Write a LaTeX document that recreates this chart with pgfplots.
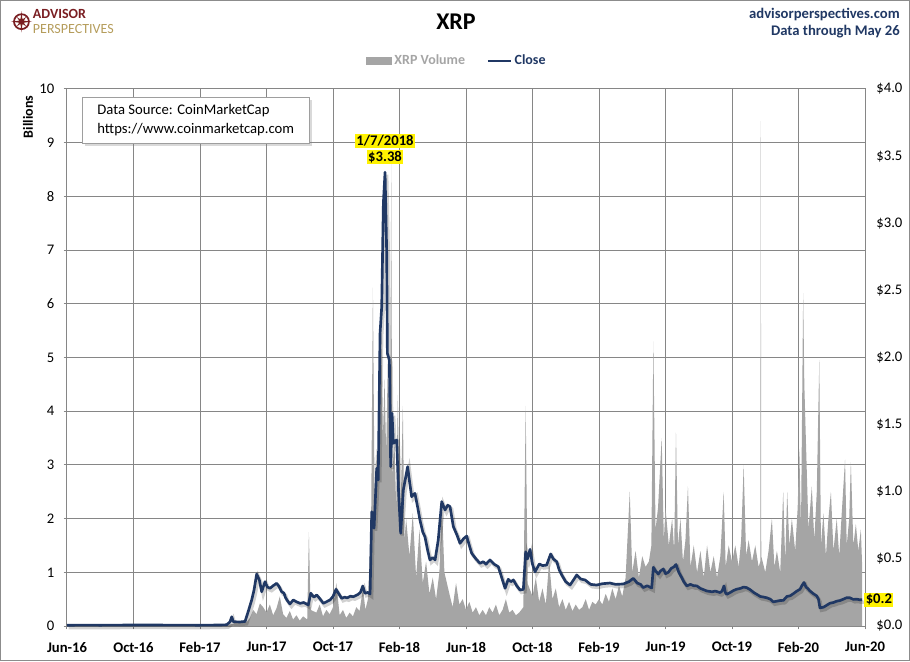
\documentclass[border=0pt]{standalone}
\usepackage{pgfplots}
\pgfplotsset{compat=1.18}
\usepackage{pgfplotstable}
\usepackage{fontspec}
\setmainfont{Carlito}
\usetikzlibrary{shadows}

\definecolor{gridc}{HTML}{868686}
\definecolor{volgray}{HTML}{A5A5A5}
\definecolor{navy}{HTML}{203864}
\definecolor{apred}{HTML}{7A1E22}
\definecolor{apgold}{HTML}{B59D5C}
\definecolor{framec}{HTML}{8C8C8C}

\pgfplotstableread{
m v
0 0.005
9.0 0.008
9.6 0.01
9.8 0.03
10.0 0.04
10.2 0.08
10.4 0.05
10.6 0.10
10.8 0.07
11.0 0.15
11.2 0.30
11.4 0.22
11.6 0.42
11.8 0.35
12.0 0.25
12.2 0.40
12.4 0.20
12.6 0.33
12.8 0.55
13.0 0.22
13.2 0.15
13.4 0.28
13.6 0.12
13.8 0.20
14.0 0.10
14.2 0.18
14.45 0.12
14.55 1.75
14.65 0.30
15.0 0.25
15.2 0.40
15.4 0.18
15.6 0.30
15.8 0.22
16.0 0.35
16.2 0.80
16.4 0.20
16.6 0.30
16.8 0.15
17.0 0.25
17.2 0.18
17.4 0.35
17.6 0.28
17.8 0.70
17.95 0.30
18.1 0.50
18.2 1.20
18.3 2.20
18.4 6.30
18.5 2.40
18.6 3.30
18.7 2.60
18.8 4.00
18.9 5.50
19.0 3.50
19.1 4.60
19.2 3.20
19.3 5.00
19.44 3.00
19.5 8.60
19.56 2.80
19.7 3.40
19.8 2.20
19.9 4.30
20.0 1.90
20.1 2.60
20.2 4.10
20.3 1.60
20.4 2.00
20.6 1.30
20.8 2.10
21.0 0.90
21.2 1.80
21.4 0.80
21.6 1.20
21.8 0.60
22.0 0.90
22.2 0.50
22.4 1.00
22.55 2.30
22.7 1.00
23.0 0.60
23.2 0.35
23.4 0.80
23.6 0.40
23.8 0.50
24.0 0.30
24.2 0.45
24.4 0.25
24.6 0.35
24.8 0.20
25.0 0.30
25.2 0.20
25.4 0.35
25.6 0.25
25.8 0.40
26.0 0.20
26.2 0.30
26.4 0.50
26.6 0.25
26.8 0.30
27.0 0.20
27.2 0.25
27.45 0.35
27.59 4.10
27.7 0.80
28.0 0.55
28.2 0.90
28.4 0.45
28.6 0.70
28.8 0.40
29.0 1.20
29.2 0.50
29.4 0.70
29.6 0.35
29.8 0.50
30.0 0.30
30.2 0.45
30.4 0.28
30.6 0.40
30.8 0.30
31.0 0.35
31.2 0.50
31.4 0.30
31.6 0.45
31.8 0.40
32.0 0.50
32.2 0.40
32.4 0.60
32.6 0.45
32.8 0.70
33.0 0.50
33.2 0.75
33.4 0.55
33.6 0.90
33.85 2.50
34.0 1.00
34.2 1.40
34.4 0.90
34.6 1.30
34.8 1.10
35.0 1.20
35.15 1.50
35.27 5.30
35.4 1.80
35.55 2.20
35.77 3.50
35.9 1.60
36.0 2.20
36.2 1.50
36.4 2.00
36.52 1.40
36.63 3.60
36.75 1.50
36.9 2.00
37.05 1.20
37.2 1.60
37.35 2.60
37.5 1.10
37.7 1.50
37.9 1.00
38.1 1.40
38.3 0.90
38.5 1.50
38.7 1.00
38.9 1.30
39.1 0.90
39.3 1.30
39.5 2.50
39.62 1.10
39.8 1.50
40.0 1.20
40.2 1.50
40.4 1.10
40.55 1.60
40.7 3.00
40.85 1.30
41.0 1.60
41.2 1.20
41.4 1.50
41.6 1.10
41.70 1.20
41.73 9.40
41.76 1.30
42.0 1.00
42.2 1.40
42.4 2.00
42.55 1.10
42.7 1.40
42.9 1.00
43.08 2.50
43.2 1.20
43.32 2.50
43.45 1.50
43.6 2.00
43.8 1.40
43.95 2.20
44.05 3.30
44.15 1.80
44.28 6.20
44.35 4.50
44.45 3.40
44.6 1.80
44.8 2.60
44.95 1.60
45.1 2.50
45.25 4.95
45.35 1.50
45.5 2.10
45.65 1.30
45.8 2.00
45.95 2.50
46.1 1.40
46.3 2.00
46.45 1.30
46.6 2.10
46.8 3.10
46.9 1.50
47.05 2.00
47.15 3.05
47.3 1.50
47.45 1.90
47.6 1.40
47.75 1.80
47.83 1.10
}\voltable

\pgfplotstableread{
m p
0.00 0.0060
1.00 0.0065
2.00 0.0062
3.00 0.0065
4.00 0.0075
5.00 0.0080
6.00 0.0065
7.00 0.0063
8.00 0.0062
9.00 0.0070
9.60 0.0090
9.80 0.030
9.91 0.069
10.00 0.032
10.40 0.030
10.71 0.034
10.89 0.104
11.11 0.194
11.25 0.268
11.41 0.387
11.57 0.343
11.71 0.255
11.91 0.330
12.05 0.290
12.21 0.281
12.40 0.300
12.61 0.318
12.75 0.295
12.91 0.255
13.05 0.245
13.15 0.210
13.25 0.190
13.41 0.164
13.61 0.194
13.80 0.180
14.02 0.169
14.25 0.175
14.51 0.156
14.66 0.244
14.85 0.215
15.02 0.231
15.20 0.205
15.42 0.169
15.60 0.180
15.82 0.194
16.00 0.220
16.18 0.273
16.35 0.240
16.52 0.206
16.70 0.215
16.85 0.210
17.05 0.222
17.22 0.218
17.50 0.235
17.65 0.250
17.79 0.298
17.92 0.244
18.10 0.250
18.23 0.238
18.33 0.851
18.47 0.728
18.63 1.175
18.72 1.088
18.83 2.180
18.93 2.378
19.03 3.149
19.13 3.380
19.23 2.776
19.27 2.031
19.39 1.981
19.47 1.187
19.55 1.584
19.63 1.361
19.83 1.386
19.93 1.038
20.07 0.691
20.23 1.013
20.49 1.187
20.60 1.080
20.73 0.963
20.93 0.988
21.10 0.880
21.23 0.790
21.40 0.700
21.53 0.665
21.70 0.560
21.83 0.492
22.00 0.510
22.14 0.492
22.33 0.641
22.54 0.926
22.74 0.864
22.90 0.900
23.04 0.889
23.24 0.740
23.45 0.680
23.64 0.616
23.85 0.650
24.04 0.670
24.20 0.600
24.34 0.542
24.60 0.500
24.84 0.467
25.04 0.479
25.20 0.460
25.44 0.492
25.70 0.460
25.94 0.442
26.10 0.380
26.35 0.281
26.54 0.348
26.70 0.330
26.85 0.343
27.05 0.300
27.25 0.268
27.45 0.273
27.59 0.553
27.70 0.500
27.85 0.571
28.00 0.460
28.15 0.404
28.41 0.462
28.60 0.450
28.85 0.454
29.09 0.536
29.25 0.500
29.46 0.479
29.60 0.420
29.76 0.380
30.00 0.330
30.26 0.305
30.45 0.340
30.66 0.380
30.90 0.350
31.16 0.343
31.50 0.310
31.86 0.305
32.20 0.315
32.66 0.320
33.00 0.310
33.46 0.313
33.80 0.330
34.06 0.355
34.30 0.320
34.50 0.310
34.66 0.286
34.90 0.300
35.17 0.283
35.27 0.437
35.40 0.410
35.57 0.387
35.70 0.410
35.87 0.425
36.00 0.390
36.17 0.400
36.35 0.430
36.50 0.440
36.63 0.458
36.80 0.400
36.97 0.362
37.10 0.330
37.28 0.299
37.50 0.310
37.70 0.300
37.88 0.299
38.10 0.280
38.30 0.270
38.48 0.261
38.80 0.255
39.00 0.260
39.28 0.249
39.40 0.260
39.52 0.299
39.60 0.250
39.68 0.236
39.90 0.250
40.10 0.265
40.28 0.274
40.50 0.280
40.70 0.290
40.88 0.286
41.10 0.270
41.30 0.250
41.49 0.236
41.70 0.220
41.88 0.216
42.10 0.210
42.30 0.200
42.48 0.180
42.70 0.185
42.90 0.190
43.09 0.191
43.30 0.220
43.50 0.225
43.69 0.241
43.90 0.260
44.09 0.274
44.20 0.300
44.33 0.324
44.45 0.290
44.55 0.280
44.69 0.261
44.90 0.240
45.10 0.224
45.20 0.200
45.29 0.135
45.50 0.140
45.70 0.155
45.90 0.170
46.10 0.175
46.30 0.185
46.50 0.190
46.70 0.200
46.90 0.211
47.10 0.210
47.30 0.198
47.50 0.200
47.70 0.195
47.83 0.196
}\pricetable

\begin{document}
\begin{tikzpicture}
\path[use as bounding box] (0,0) rectangle (682.5pt,495.75pt);

% volume axis (left)
\begin{axis}[
  at={(50.25pt,26.25pt)}, anchor=south west,
  width=598.5pt, height=402.75pt, scale only axis,
  xmin=0, xmax=48, ymin=0, ymax=10,
  xtick={0,4,...,48},
  xticklabels={Jun-16,Oct-16,Feb-17,Jun-17,Oct-17,Feb-18,Jun-18,Oct-18,Feb-19,Jun-19,Oct-19,Feb-20,Jun-20},
  ytick={0,1,...,10},
  yticklabels={0,1,2,3,4,5,6,7,8,9,10},
  grid=major,
  major grid style={gridc, line width=0.75pt},
  axis line style={gridc, line width=0.75pt},
  tick style={gridc, line width=0.75pt},
  tick align=outside, major tick length=2.5pt,
  xtick pos=bottom, ytick pos=left,
  /pgf/number format/assume math mode=true,
  xticklabel style={font=\bfseries\fontsize{11}{13}\selectfont, yshift=-6pt},
  yticklabel style={font=\fontsize{11}{13}\selectfont, xshift=-3.5pt},
]
\addplot[fill=volgray, draw=none] table[x=m, y=v]{\voltable} \closedcycle;
\end{axis}

% price axis (right)
\begin{axis}[
  at={(50.25pt,26.25pt)}, anchor=south west,
  width=598.5pt, height=402.75pt, scale only axis,
  xmin=0, xmax=48, ymin=0, ymax=4,
  axis x line=none, axis y line*=right,
  y axis line style={draw=none},
  ytick={0,0.5,1,1.5,2,2.5,3,3.5,4},
  yticklabels={\$0.0,\$0.5,\$1.0,\$1.5,\$2.0,\$2.5,\$3.0,\$3.5,\$4.0},
  major tick length=0pt,
  /pgf/number format/assume math mode=true,
  yticklabel style={font=\fontsize{11}{13}\selectfont, anchor=west, xshift=5pt},
  clip=false,
  legend style={at={(0.489,1.052)}, anchor=center, draw=none, fill=none,
    font=\bfseries\fontsize{10.5}{12}\selectfont, legend columns=2,
    /tikz/every even column/.append style={column sep=14pt}},
]
\addlegendimage{legend image code/.code={\fill[volgray] (0cm,-0.09cm) rectangle (0.66cm,0.09cm);}}
\addlegendentry{\textcolor{volgray}{XRP Volume}}
\addplot[black, opacity=0.18, line width=2.6pt, xshift=1.2pt, yshift=-1.8pt, forget plot] table[x=m, y=p]{\pricetable};
\addplot[navy, line width=2pt, line join=round] table[x=m, y=p]{\pricetable};
\addlegendentry{\textcolor{navy}{Close}}
\node[fill=yellow, inner sep=1pt, anchor=south, font=\bfseries\fontsize{11}{13}\selectfont, yshift=6pt] (pk) at (axis cs:19.13,3.38) {\$3.38};
\node[fill=yellow, inner sep=1pt, anchor=south, font=\bfseries\fontsize{11}{13}\selectfont] at ([yshift=1pt]pk.north) {1/7/2018};
\node[fill=yellow, inner sep=1pt, anchor=west, font=\bfseries\fontsize{11}{13}\selectfont, xshift=1.5pt] at (axis cs:47.83,0.196) {\$0.2};
\end{axis}

% Billions label
\node[rotate=90, font=\bfseries\fontsize{10.5}{12}\selectfont] at (21pt,408pt) {Billions};

% Data source box
\node[draw=gridc!80, fill=white, drop shadow={opacity=0.3, shadow xshift=2pt, shadow yshift=-2pt},
  anchor=north west, minimum width=170.25pt, minimum height=34.5pt, inner xsep=3pt,
  align=left, font=\fontsize{11}{14}\selectfont] at (61.5pt,423pt)
  {Data Source: CoinMarketCap\\https://www.coinmarketcap.com};

% title
\node[font=\bfseries\fontsize{18}{20}\selectfont] at (342pt,479.25pt) {XRP};

% top right
\node[anchor=east, font=\bfseries\fontsize{11}{13}\selectfont, text=navy, inner sep=0pt] at (675pt,484.5pt) {advisorperspectives.com};
\node[anchor=east, font=\bfseries\fontsize{11}{13}\selectfont, text=navy, inner sep=0pt] at (675pt,471.75pt) {Data through May 26};

% logo
\begin{scope}[shift={(16.1pt,479.5pt)}]
\draw[apred, line width=1.3pt] (0,0) circle (5.6pt);
\fill[apgold] (0:4pt) -- (45:1.6pt) -- (90:4pt) -- (135:1.6pt) -- (180:4pt) -- (225:1.6pt) -- (270:4pt) -- (315:1.6pt) -- cycle;
\fill[apred] (0:8pt) -- (22.5:1.8pt) -- (45:5pt) -- (67.5:1.8pt) -- (90:8pt) -- (112.5:1.8pt) -- (135:5pt) -- (157.5:1.8pt) -- (180:8pt) -- (202.5:1.8pt) -- (225:5pt) -- (247.5:1.8pt) -- (270:8pt) -- (292.5:1.8pt) -- (315:5pt) -- (337.5:1.8pt) -- cycle;
\end{scope}
\node[anchor=base west, inner sep=0pt, font=\bfseries\fontsize{10.5}{11}\selectfont, text=apred] at (24.5pt,481.5pt) {ADVISOR};
\node[anchor=base west, inner sep=0pt, font=\fontsize{10.5}{11}\selectfont, text=apgold] at (24.5pt,470.5pt) {PERSPECTIVES};

% outer frame
\draw[framec, line width=0.75pt] (0.375pt,0.375pt) rectangle (682.125pt,495.375pt);
\end{tikzpicture}
\end{document}
